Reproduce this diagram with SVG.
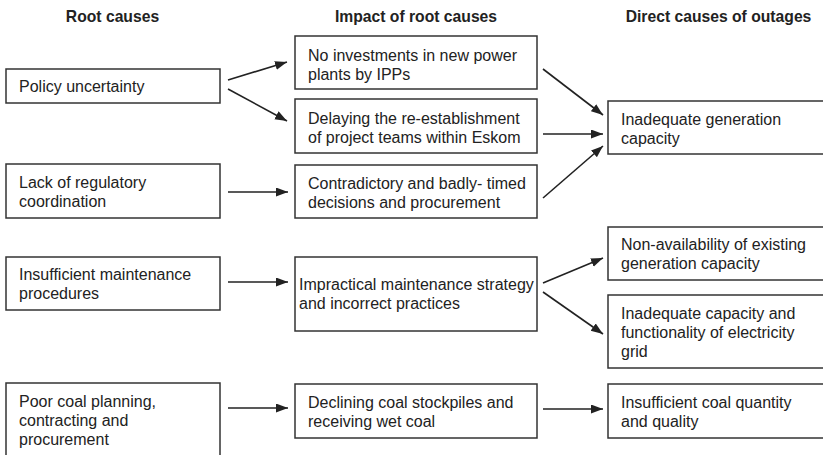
<svg xmlns="http://www.w3.org/2000/svg" width="823" height="455" viewBox="0 0 823 455">
<style>
.box{fill:#fff;stroke:#333;stroke-width:1.5}
.t{font-family:"Liberation Sans",Arial,sans-serif;font-size:16px;fill:#222}
.h{font-family:"Liberation Sans",Arial,sans-serif;font-size:15.7px;font-weight:bold;fill:#222;text-anchor:middle}
.c{stroke:#222;stroke-width:1.6;fill:none;marker-end:url(#ah)}
</style>
<defs>
<marker id="ah" markerUnits="userSpaceOnUse" markerWidth="13" markerHeight="10" refX="12" refY="4.5" orient="auto">
<path d="M0,0 L12,4.5 L0,9 z" fill="#222"/>
</marker>
</defs>
<rect width="823" height="455" fill="#fff"/>
<g id="headers">
<text class="h" x="112.5" y="22">Root causes</text>
<text class="h" x="416" y="22">Impact of root causes</text>
<text class="h" x="718.5" y="22">Direct causes of outages</text>
</g>
<g id="n-policy"><rect class="box" x="6" y="69" width="214" height="34"/><text class="t" x="19" y="92">Policy uncertainty</text></g>
<g id="n-lack"><rect class="box" x="6" y="164" width="214" height="54"/><text class="t" x="19" y="188">Lack of regulatory</text><text class="t" x="19" y="207">coordination</text></g>
<g id="n-insuff-maint"><rect class="box" x="6" y="257" width="214" height="53"/><text class="t" x="19" y="280">Insufficient maintenance</text><text class="t" x="19" y="299">procedures</text></g>
<g id="n-poorcoal"><rect class="box" x="6" y="383" width="214" height="80"/><text class="t" x="19" y="407">Poor coal planning,</text><text class="t" x="19" y="426">contracting and</text><text class="t" x="19" y="445">procurement</text></g>
<g id="n-noinvest"><rect class="box" x="295" y="36" width="242" height="53"/><text class="t" x="308" y="61">No investments in new power</text><text class="t" x="308" y="80">plants by IPPs</text></g>
<g id="n-delaying"><rect class="box" x="295" y="99" width="242" height="54"/><text class="t" x="308" y="124">Delaying the re-establishment</text><text class="t" x="308" y="143">of project teams within Eskom</text></g>
<g id="n-contra"><rect class="box" x="295" y="165" width="242" height="53"/><text class="t" x="308" y="189">Contradictory and badly- timed</text><text class="t" x="308" y="208">decisions and procurement</text></g>
<g id="n-impractical"><rect class="box" x="295" y="257" width="242" height="74"/><text class="t" x="299" y="290">Impractical maintenance strategy</text><text class="t" x="299" y="309">and incorrect practices</text></g>
<g id="n-declining"><rect class="box" x="295" y="384" width="242" height="54"/><text class="t" x="308" y="408">Declining coal stockpiles and</text><text class="t" x="308" y="427">receiving wet coal</text></g>
<g id="n-inadgen"><rect class="box" x="608" y="101" width="230" height="53"/><text class="t" x="621" y="125">Inadequate generation</text><text class="t" x="621" y="144">capacity</text></g>
<g id="n-nonavail"><rect class="box" x="608" y="227" width="230" height="53"/><text class="t" x="621" y="250">Non-availability of existing</text><text class="t" x="621" y="269">generation capacity</text></g>
<g id="n-inadcap"><rect class="box" x="608" y="295" width="230" height="73"/><text class="t" x="621" y="319">Inadequate capacity and</text><text class="t" x="621" y="338">functionality of electricity</text><text class="t" x="621" y="357">grid</text></g>
<g id="n-insuffcoal"><rect class="box" x="608" y="384" width="230" height="54"/><text class="t" x="621" y="408">Insufficient coal quantity</text><text class="t" x="621" y="427">and quality</text></g>
<g id="connectors">
<line class="c" x1="228" y1="80" x2="287" y2="62"/>
<line class="c" x1="228" y1="89" x2="287" y2="121"/>
<line class="c" x1="543" y1="69" x2="603" y2="115"/>
<line class="c" x1="543" y1="134" x2="603" y2="134"/>
<line class="c" x1="543" y1="198" x2="603" y2="146"/>
<line class="c" x1="228" y1="192" x2="288" y2="192"/>
<line class="c" x1="228" y1="282" x2="288" y2="282"/>
<line class="c" x1="543" y1="283" x2="603" y2="258"/>
<line class="c" x1="543" y1="292" x2="603" y2="334"/>
<line class="c" x1="228" y1="408" x2="288" y2="408"/>
<line class="c" x1="543" y1="409" x2="603" y2="409"/>
</g>
</svg>
